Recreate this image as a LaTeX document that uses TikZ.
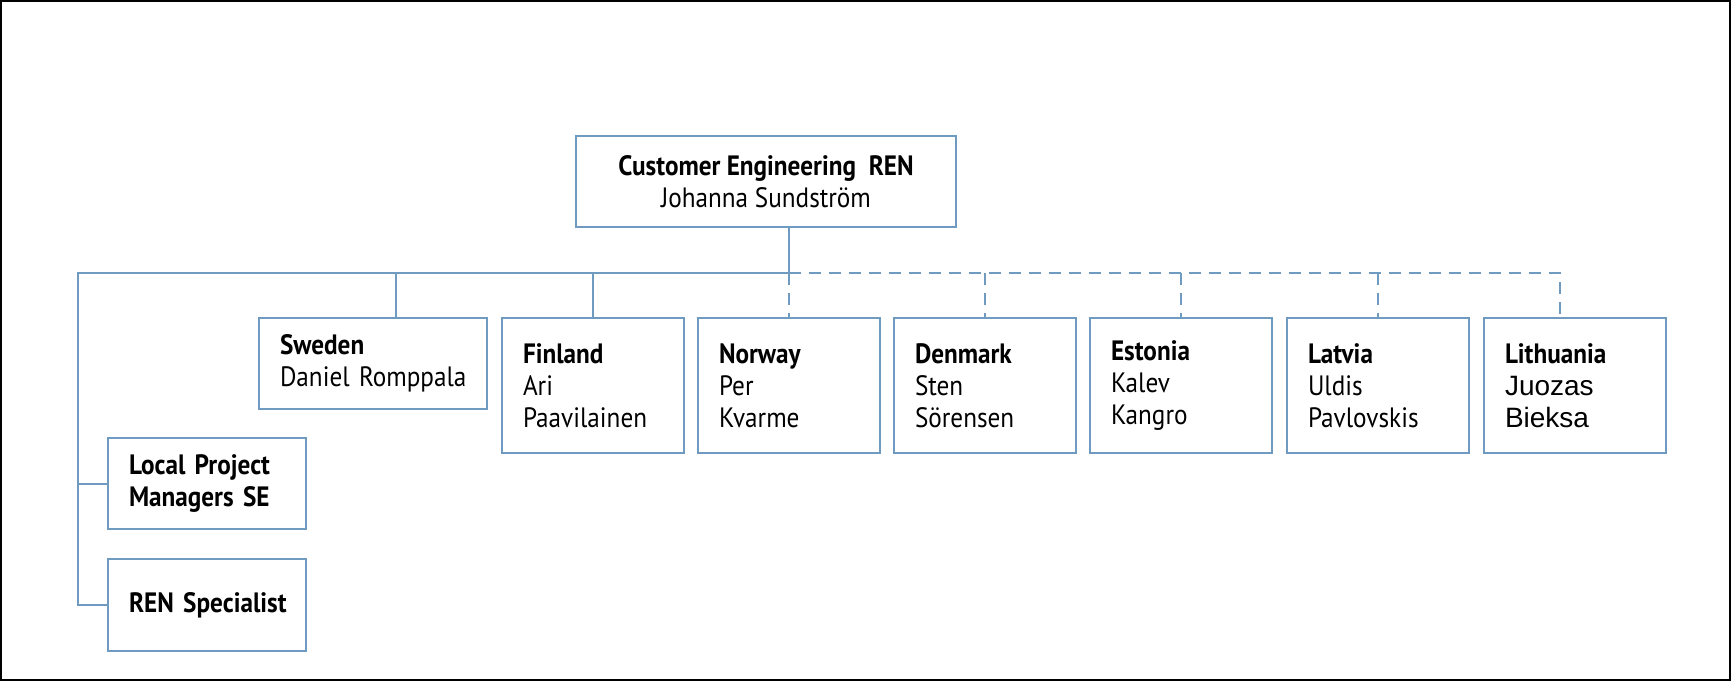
\documentclass[tikz,border=0pt]{standalone}
\usepackage{fontspec}
\setmainfont{PT Sans}[FakeStretch=0.9]
\newfontfamily\arialfont{Liberation Sans}
\definecolor{orgblue}{RGB}{112,155,192}
\hyphenpenalty=10000
\newcommand{\country}[5]
{   \node[unit] (#1) at (#2,385.5) {\textbf{#3}\\#4\\#5};
}

\begin{document}
\begin{tikzpicture}[x=0.5pt,y=-0.5pt,
  box/.style={draw=orgblue,line width=1pt,inner sep=0pt,font=\fontsize{14}{16}\selectfont},
  unit/.style={box,align=left,inner xsep=10.5pt,text width=70pt,minimum height=67.5pt},
  wire/.style={draw=orgblue,line width=1pt},
  dashwire/.style={wire,dash pattern=on 6pt off 4pt}]

 \useasboundingbox (0,0) rectangle (1731,681);
 \draw[line width=1pt] (1,1) rectangle (1730,680);

 \node[box,align=center,minimum width=190pt,minimum height=45.5pt] (ceo) at (766,181.5)
   {\textbf{Customer Engineering\ \ REN}\\Johanna Sundström};
 \node[box,align=left,inner xsep=10.5pt,text width=93pt,minimum height=45.5pt] (sweden) at (373,363.5)
   {\textbf{Sweden}\\Daniel~Romppala};
 \country{finland}{593}{Finland}{Ari}{Paavilainen}
 \country{norway}{789}{Norway}{Per}{Kvarme}
 \country{denmark}{985}{Denmark}{Sten}{Sörensen}
 \country{estonia}{1181}{Estonia}{Kalev}{Kangro}
 \country{latvia}{1378}{Latvia}{Uldis}{Pavlovskis}
 \country{lithuania}{1575}{Lithuania}{\arialfont Juozas}{\arialfont Bieksa}
 \node[box,align=left,inner xsep=10.5pt,text width=78pt,minimum height=45.5pt] (lpm) at (207,483.5)
   {\textbf{Local Project}\\\textbf{Managers SE}};
 \node[box,align=left,inner xsep=10.5pt,text width=78pt,minimum height=46pt] (ren) at (207,605)
   {\textbf{REN~Specialist}};

 \coordinate (hub) at (789,273);
 \coordinate (left) at (78,273);
 \coordinate (right) at (1560,273);

   \draw[wire] (ceo.south -| hub) -- (hub);
   \draw[wire] (hub) -- (left) |- (ren.west);
   \draw[wire] (left |- lpm.west) -- (lpm.west);
   \draw[wire] ([xshift=11.5pt]sweden.north) -- ([xshift=11.5pt]sweden.north |- hub);
   \draw[wire] (finland.north) -- (finland.north |- hub);
   \draw[dashwire] (hub) -- (right) -- (right |- lithuania.north);
   \draw[dashwire] (hub) -- (norway.north);
   \foreach \c in {denmark,estonia,latvia}
     \draw[dashwire] (\c.north |- hub) -- (\c.north);

\end{tikzpicture}
\end{document}
